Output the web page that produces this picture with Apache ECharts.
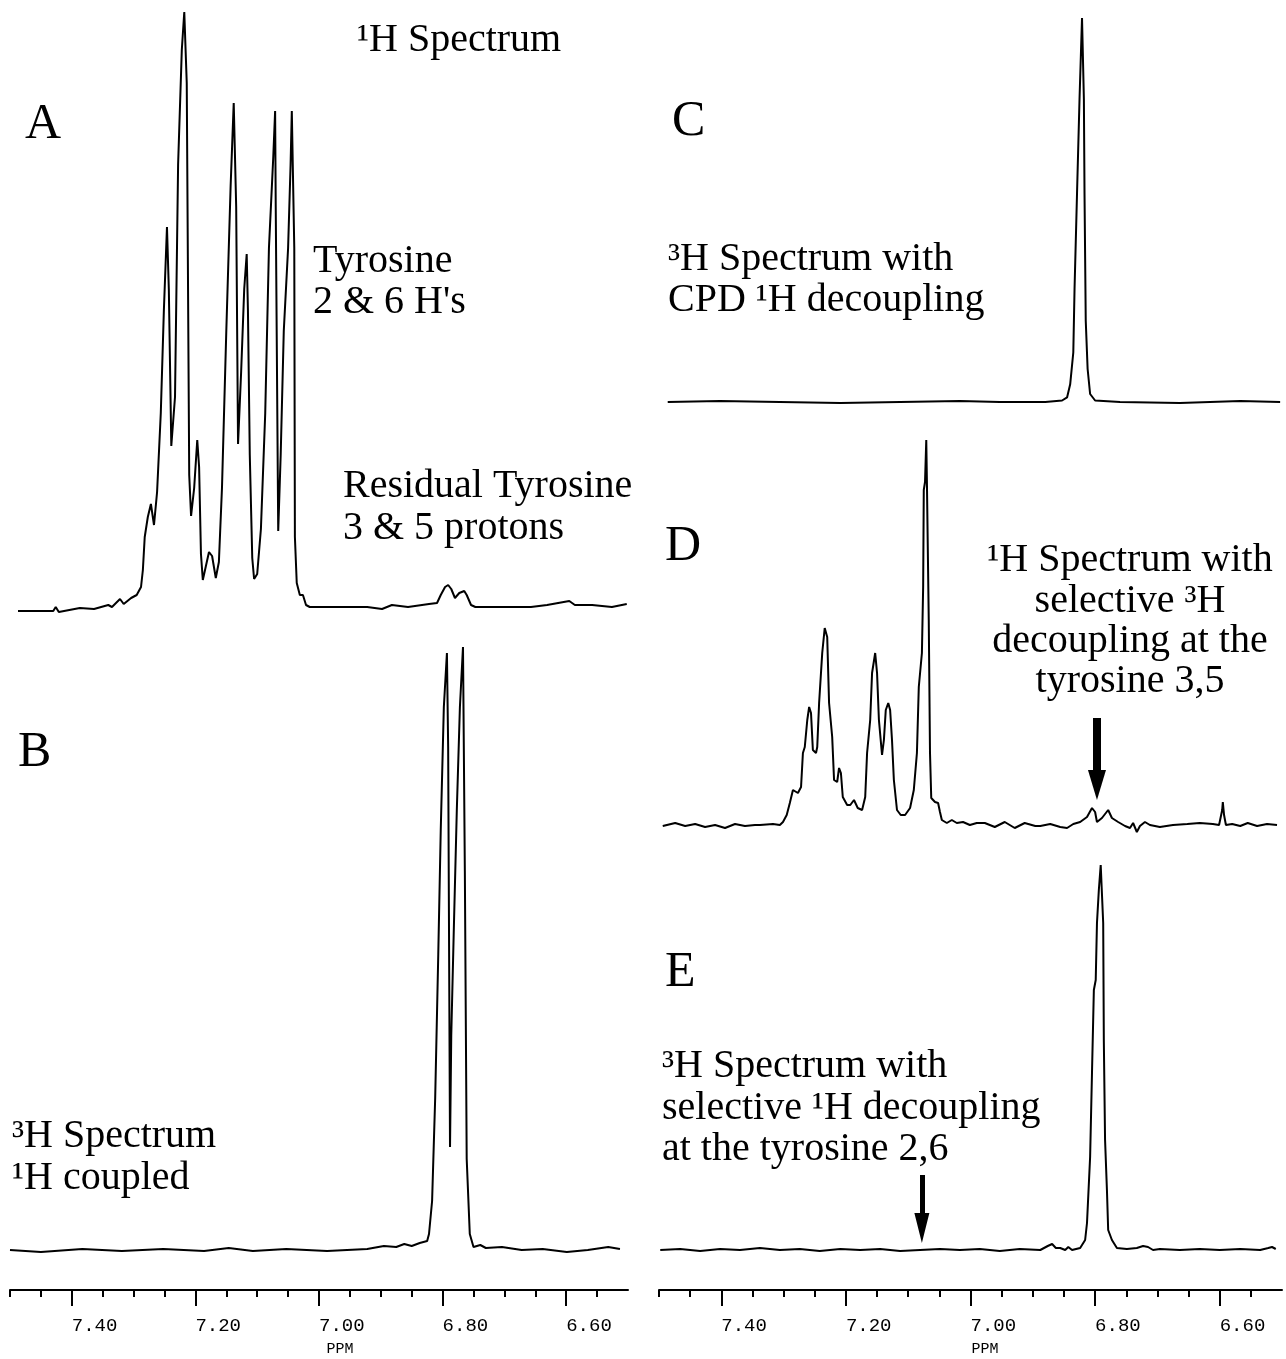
<!DOCTYPE html>
<html>
<head>
<meta charset="utf-8">
<title>1H / 3H spectra</title>
<script src="https://cdn.jsdelivr.net/npm/echarts@6/dist/echarts.min.js"></script>
<style>
  html, body { margin: 0; padding: 0; background: #fff; }
  #chart { width: 1286px; height: 1359px; }
</style>
</head>
<body>
<div id="chart"></div>
<script>
// chemical shift (ppm) , intensity (a.u.)
const spectrumA = [
  [7.487, 1], [7.430, 1], [7.426, 5], [7.421, 0], [7.387, 4], [7.364, 3], [7.341, 7], [7.335, 5],
  [7.322, 13], [7.316, 8], [7.304, 14], [7.295, 17], [7.288, 25], [7.285, 42], [7.282, 75],
  [7.277, 95], [7.272, 108], [7.267, 87], [7.262, 120], [7.256, 199], [7.251, 302], [7.246, 385],
  [7.243, 323], [7.239, 166], [7.233, 215], [7.228, 447], [7.222, 562], [7.218, 600], [7.214, 529],
  [7.210, 137], [7.207, 96], [7.202, 124], [7.197, 172], [7.194, 145], [7.191, 58], [7.188, 32],
  [7.183, 46], [7.178, 60], [7.173, 56], [7.167, 34], [7.162, 50], [7.157, 124], [7.150, 281],
  [7.143, 426], [7.138, 509], [7.134, 405], [7.131, 168], [7.126, 240], [7.121, 323], [7.117, 358],
  [7.115, 302], [7.112, 157], [7.108, 54], [7.105, 33], [7.100, 38], [7.094, 83], [7.087, 199],
  [7.081, 364], [7.074, 455], [7.071, 501], [7.070, 405], [7.066, 81], [7.062, 157], [7.057, 281],
  [7.050, 364], [7.046, 447], [7.044, 501], [7.040, 364], [7.039, 75], [7.036, 29], [7.031, 17],
  [7.026, 17], [7.021, 7], [7.015, 5], [6.989, 5], [6.955, 5], [6.922, 5], [6.898, 3], [6.882, 7],
  [6.856, 5], [6.822, 8], [6.809, 9], [6.803, 17], [6.796, 25], [6.791, 27], [6.786, 23],
  [6.780, 14], [6.773, 19], [6.765, 21], [6.761, 17], [6.754, 7], [6.747, 5], [6.723, 5],
  [6.691, 5], [6.657, 5], [6.631, 7], [6.595, 11], [6.586, 7], [6.558, 7], [6.526, 5], [6.502, 8]
];

const spectrumB = [
  [7.500, 0], [7.450, -2], [7.383, 1], [7.319, -1], [7.252, 1], [7.186, -1], [7.146, 2],
  [7.107, -1], [7.053, 1], [6.987, -1], [6.922, 1], [6.895, 4], [6.875, 3], [6.862, 6],
  [6.850, 4], [6.837, 7], [6.825, 9], [6.822, 16], [6.817, 49], [6.812, 152], [6.807, 296],
  [6.803, 420], [6.798, 543], [6.793, 597], [6.791, 502], [6.788, 103], [6.786, 214],
  [6.782, 317], [6.777, 440], [6.772, 543], [6.767, 603], [6.764, 379], [6.761, 91],
  [6.756, 16], [6.750, 3], [6.739, 5], [6.730, 2], [6.704, 3], [6.672, 0], [6.638, 1],
  [6.599, -2], [6.565, 0], [6.532, 3], [6.513, 1]
];

const spectrumC = [
  [7.486, 0], [7.402, 1], [7.306, 0], [7.209, -1], [7.113, 0], [7.017, 1], [6.953, 0],
  [6.880, 0], [6.853, 1.5], [6.845, 4.6], [6.840, 17.7], [6.835, 49.5], [6.833, 113],
  [6.829, 209], [6.825, 303], [6.821, 384], [6.818, 303], [6.817, 209], [6.815, 81],
  [6.812, 33], [6.808, 8], [6.800, 1.5], [6.760, 0], [6.664, -1], [6.567, 1], [6.503, 0]
];

const spectrumD = [
  [7.494, -1], [7.474, 2], [7.458, -1], [7.442, 1], [7.426, -2], [7.410, 0], [7.394, -3],
  [7.378, 1], [7.362, -1], [7.346, 0], [7.338, 0], [7.317, 1], [7.306, 0], [7.301, 3],
  [7.295, 10], [7.290, 22], [7.285, 35], [7.282, 37], [7.277, 32], [7.272, 38], [7.269, 72],
  [7.266, 78], [7.262, 105], [7.259, 118], [7.256, 112], [7.253, 75], [7.248, 72], [7.246, 78],
  [7.243, 122], [7.238, 172], [7.234, 197], [7.230, 188], [7.227, 122], [7.222, 88], [7.219, 45],
  [7.214, 43], [7.211, 57], [7.208, 52], [7.205, 28], [7.198, 20], [7.193, 20], [7.187, 25],
  [7.181, 17], [7.174, 15], [7.169, 28], [7.166, 72], [7.161, 105], [7.158, 152], [7.153, 172],
  [7.150, 152], [7.147, 105], [7.142, 70], [7.139, 85], [7.136, 115], [7.132, 122], [7.129, 115],
  [7.126, 85], [7.123, 45], [7.118, 15], [7.112, 10], [7.105, 10], [7.097, 17], [7.091, 35],
  [7.086, 72], [7.083, 138], [7.078, 172], [7.076, 238], [7.075, 335], [7.073, 343], [7.071, 385],
  [7.070, 345], [7.067, 205], [7.065, 72], [7.063, 27], [7.057, 23], [7.052, 22], [7.049, 13],
  [7.046, 5], [7.038, 2], [7.030, 5], [7.022, 2], [7.012, 3], [7.001, 0], [6.990, 2], [6.977, 2],
  [6.961, -2], [6.945, 3], [6.929, -3], [6.913, 2], [6.896, -1], [6.888, -1], [6.872, 1],
  [6.856, -2], [6.845, -3], [6.835, 1], [6.824, 3], [6.813, 8], [6.805, 17], [6.800, 13],
  [6.797, 3], [6.789, 7], [6.779, 15], [6.773, 7], [6.763, 3], [6.752, -1], [6.744, -3],
  [6.739, 2], [6.733, -7], [6.728, -1], [6.720, 3], [6.712, 0], [6.696, -2], [6.675, 0],
  [6.652, 1], [6.632, 2], [6.611, 1], [6.601, 0], [6.596, 15], [6.595, 23], [6.593, 10],
  [6.590, 0], [6.580, 1], [6.567, -1], [6.555, 2], [6.540, -1], [6.524, 1], [6.508, 0]
];

const spectrumE = [
  [7.498, -1], [7.466, 0], [7.434, -2], [7.402, 0], [7.370, -1], [7.338, 1], [7.306, -1],
  [7.274, 0], [7.242, -2], [7.209, 0], [7.177, -1], [7.145, 0], [7.113, -2], [7.081, -1],
  [7.049, 0], [7.017, -1], [6.985, 0], [6.953, -2], [6.921, 0], [6.888, -1], [6.876, 3],
  [6.869, 5], [6.863, 1], [6.856, 1], [6.848, -1], [6.843, 2], [6.837, -1], [6.824, 1],
  [6.816, 9], [6.813, 26], [6.808, 92], [6.805, 176], [6.802, 259], [6.799, 269], [6.797, 326],
  [6.794, 359], [6.791, 384], [6.789, 382], [6.787, 326], [6.786, 209], [6.784, 109],
  [6.781, 59], [6.779, 19], [6.773, 9], [6.765, 1], [6.749, 0], [6.733, 1], [6.723, 3],
  [6.715, 2], [6.707, -1], [6.696, 0], [6.664, -1], [6.632, 0], [6.600, -1], [6.567, 0],
  [6.535, -1], [6.522, 1], [6.516, 2], [6.510, 0]
];

// arrows: [ppm, shaft top, head centre]
const arrowD = [6.797, 107, 40];
const arrowE = [7.078, 74, 21];

const majorTicks = [7.4, 7.2, 7.0, 6.8, 6.6];
const minorTicks = [7.5, 7.45, 7.35, 7.3, 7.25, 7.15, 7.1, 7.05, 6.95, 6.9, 6.85, 6.75, 6.7, 6.65, 6.55];

const chart = echarts.init(document.getElementById('chart'));

const serif = '"Liberation Serif", "Times New Roman", serif';
const mono = '"Liberation Mono", "DejaVu Sans Mono", monospace';

// panels: grid boxes (one pixel per intensity unit)
const LEFT = { left: 10, width: 618 };
const RIGHT = { left: 659, width: 623 };
const grids = [
  { ...LEFT, top: 12, height: 600 },   // A
  { ...LEFT, top: 650, height: 600 },  // B
  { ...RIGHT, top: 18, height: 384 },  // C
  { ...RIGHT, top: 425, height: 400 }, // D
  { ...RIGHT, top: 849, height: 400 }, // E
  { ...LEFT, top: 1289, height: 1 },   // ppm axis left
  { ...RIGHT, top: 1289, height: 1 }   // ppm axis right
];

const hiddenX = (i) => ({
  gridIndex: i, type: 'value', min: 6.5, max: 7.5, inverse: true, show: false
});
const hiddenY = (i, max) => ({
  gridIndex: i, type: 'value', min: 0, max: max, show: false
});

const ppmAxis = (i) => ({
  gridIndex: i,
  type: 'value',
  min: 6.5,
  max: 7.5,
  inverse: true,
  position: 'bottom',
  splitLine: { show: false },
  axisLine: { show: true, lineStyle: { color: '#000', width: 2 } },
  axisTick: {
    show: true,
    customValues: majorTicks,
    length: 16,
    lineStyle: { color: '#000', width: 2 },
  },
  axisLabel: {
    show: true,
    customValues: majorTicks,
    formatter: (v) => v.toFixed(2),
    align: 'left',
    margin: 26,
    color: '#000',
    fontFamily: mono,
    fontSize: 19,
  },
});
const minorAxis = (i) => ({
  gridIndex: i,
  type: 'value',
  min: 6.5,
  max: 7.5,
  inverse: true,
  position: 'bottom',
  splitLine: { show: false },
  axisLine: { show: false },
  axisTick: {
    show: true,
    customValues: minorTicks,
    length: 7,
    lineStyle: { color: '#000', width: 2 },
  },
  axisLabel: { show: false },
});

const trace = (data, i) => ({
  type: 'line',
  xAxisIndex: i,
  yAxisIndex: i,
  data: data,
  showSymbol: false,
  symbol: 'none',
  clip: false,
  silent: true,
  lineStyle: { color: '#000', width: 2 },
});

const arrow = (a, shaft, head) => ({
  silent: true,
  symbol: ['none', 'triangle'],
  symbolSize: head,
  label: { show: false },
  emphasis: { disabled: true },
  lineStyle: { color: '#000', width: shaft, type: 'solid' },
  itemStyle: { color: '#000' },
  data: [[{ coord: [a[0], a[1]] }, { coord: [a[0], a[2]] }]],
});

const seriesD = trace(spectrumD, 3);
seriesD.markLine = arrow(arrowD, 8, [18, 30]);
const seriesE = trace(spectrumE, 4);
seriesE.markLine = arrow(arrowE, 5, [15, 30]);

// labels: [text, x, baseline, size, align]
const labels = [
  ['\u00B9H Spectrum', 357, 52, 40, 'left'],
  ['A', 25, 140, 50, 'left'],
  ['Tyrosine', 313, 273, 40, 'left'],
  ['2 & 6 H\'s', 313, 314, 40, 'left'],
  ['Residual Tyrosine', 343, 498, 40, 'left'],
  ['3 & 5 protons', 343, 540, 40, 'left'],
  ['B', 18, 768, 50, 'left'],
  ['\u00B3H Spectrum', 12, 1148, 40, 'left'],
  ['\u00B9H coupled', 12, 1190, 40, 'left'],
  ['C', 672, 137, 50, 'left'],
  ['\u00B3H Spectrum with', 668, 271, 40, 'left'],
  ['CPD \u00B9H decoupling', 668, 312, 40, 'left'],
  ['D', 665, 562, 50, 'left'],
  ['\u00B9H Spectrum with', 1130, 572, 40, 'center'],
  ['selective \u00B3H', 1130, 613, 40, 'center'],
  ['decoupling at the', 1130, 653, 40, 'center'],
  ['tyrosine 3,5', 1130, 693, 40, 'center'],
  ['E', 665, 988, 50, 'left'],
  ['\u00B3H Spectrum with', 662, 1078, 40, 'left'],
  ['selective \u00B9H decoupling', 662, 1120, 40, 'left'],
  ['at the tyrosine 2,6', 662, 1161, 40, 'left'],
];

const graphics = labels.map(([text, x, base, size, align]) => ({
  type: 'text',
  x: x,
  y: base - 0.3 * size,
  silent: true,
  style: {
    text: text,
    font: size + 'px ' + serif,
    fill: '#000',
    textAlign: align,
    textVerticalAlign: 'middle',
  },
}));
[340, 985].forEach((x) => {
  graphics.push({
    type: 'text',
    x: x,
    y: 1349,
    silent: true,
    style: {
      text: 'PPM',
      font: '15px ' + mono,
      fill: '#000',
      textAlign: 'center',
      textVerticalAlign: 'middle',
    },
  });
});

const option = {
  animation: false,
  backgroundColor: '#fff',
  grid: grids,
  xAxis: [
    hiddenX(0), hiddenX(1), hiddenX(2), hiddenX(3), hiddenX(4),
    ppmAxis(5), ppmAxis(6), minorAxis(5), minorAxis(6)
  ],
  yAxis: [
    hiddenY(0, 600), hiddenY(1, 600), hiddenY(2, 384), hiddenY(3, 400), hiddenY(4, 400),
    hiddenY(5, 1), hiddenY(6, 1)
  ],
  series: [
    trace(spectrumA, 0),
    trace(spectrumB, 1),
    trace(spectrumC, 2),
    seriesD,
    seriesE,
  ],
  graphic: graphics,
};

chart.setOption(option);

window.addEventListener('resize', () => {
  chart.resize();
});
</script>
</body>
</html>
